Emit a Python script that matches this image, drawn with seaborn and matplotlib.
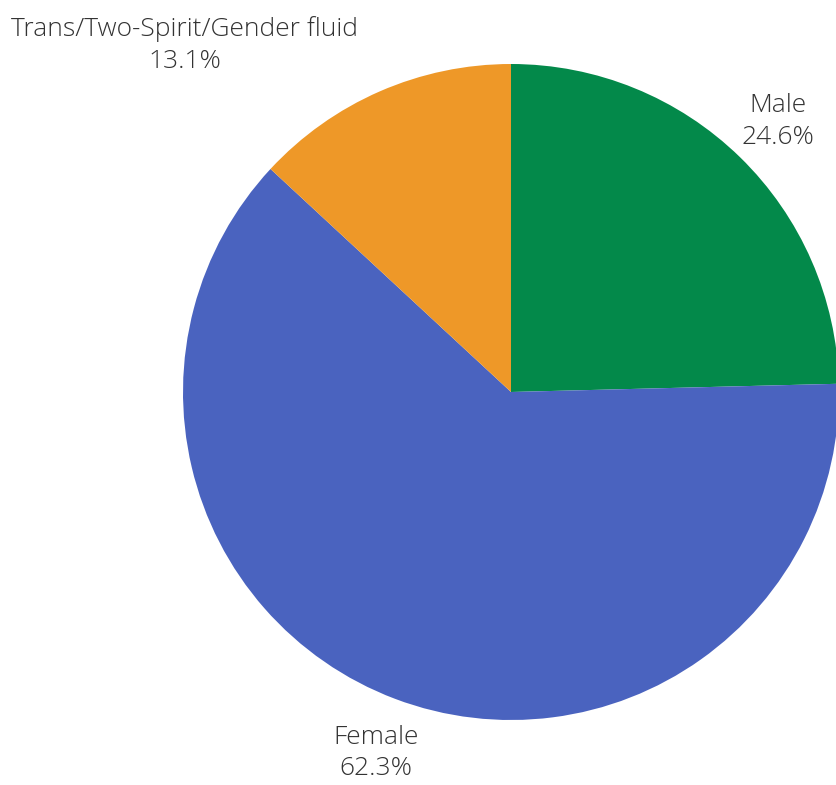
import numpy as np
import matplotlib
matplotlib.use("Agg")
import matplotlib.pyplot as plt
import seaborn as sns

categories = ["Male", "Female", "Trans/Two-Spirit/Gender fluid"]
values = [24.6, 62.3, 13.1]
colors = ["#03894A", "#4A63BF", "#EE9828"]
label_align = ["center", "center", "right"]

sns.set_theme(style="white")
plt.rcParams['font.family'] = ['Open Sans', 'DejaVu Sans']

W, H = 836, 785
fig = plt.figure(figsize=(W / 100, H / 100), dpi=100)
cx, cy, r = 511, 392, 328
ax = fig.add_axes([(cx - r) / W, (H - cy - r) / H, 2 * r / W, 2 * r / H])

wedges, _ = ax.pie(values, colors=colors, startangle=90, counterclock=False,
                   radius=1, wedgeprops=dict(linewidth=0))
ax.set_xlim(-1, 1)
ax.set_ylim(-1, 1)
ax.set_aspect("equal")
ax.axis("off")
for w in wedges:
    w.set_clip_on(False)

total = sum(values)
cum = 0
for cat, v, ha in zip(categories, values, label_align):
    mid = 90 - (cum + v / 2) / total * 360
    cum += v
    a = np.deg2rad(mid)
    x, y = 1.166 * np.cos(a), 1.166 * np.sin(a) - 0.01
    ax.text(x, y, f"{cat}\n{v:.1f}%", ha=ha, va="center", multialignment="center",
            fontsize=19, fontweight="light", color="#333333", clip_on=False,
            linespacing=1.35)

fig.savefig("out.png", dpi=100)
